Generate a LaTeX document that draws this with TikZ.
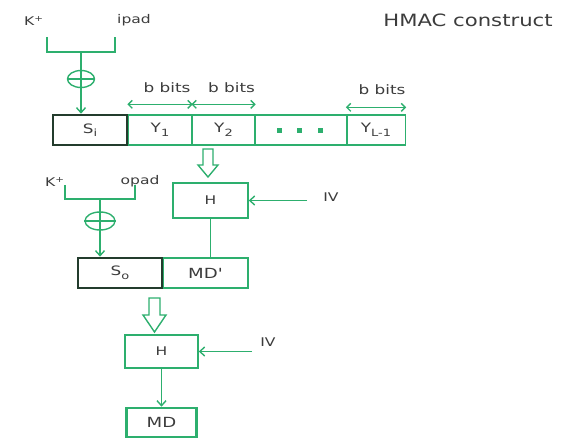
\documentclass[tikz,border=0pt]{standalone}
\usepackage{fontspec}
\setmainfont{DejaVu Sans}
\usetikzlibrary{arrows.meta,shapes.geometric}
\definecolor{hgreen}{RGB}{45,175,110}
\definecolor{htext}{RGB}{60,60,60}
\definecolor{hdark}{RGB}{35,60,45}
\newcommand\hwide[1]{\scalebox{1.3}[1]{#1}}
\newcommand\hsub[1]{\raisebox{-3.5bp}{\fontsize{10}{12}\selectfont #1}}
\begin{document}
\begin{tikzpicture}[x=1bp,y=-1bp,
  gline/.style={draw=hgreen,line width=1.4bp},
  arr/.style={gline,-{Straight Barb[length=5bp,width=9bp]}},
  darr/.style={gline,{Straight Barb[length=4bp,width=8bp]}-{Straight Barb[length=4bp,width=8bp]}},
  lbl/.style={text=htext,font=\fontsize{12}{14}\selectfont,inner sep=0},
  cell/.style={draw=hgreen,line width=1.4bp,minimum height=30bp,inner sep=0,text=htext,font=\fontsize{13}{15}\selectfont},
  thickcell/.style={cell,draw=hdark,line width=2.6bp},
  hbox/.style={draw=hgreen,line width=1.4bp,inner sep=0,text=htext,font=\fontsize{12}{14}\selectfont},
  xor/.style={ellipse,draw=hgreen,line width=1.4bp,inner sep=0},
  hollow/.style={draw=hgreen,line width=1.4bp,fill=white}]
\useasboundingbox (0,0) rectangle (568,438);

% title
\node[text=htext,font=\fontsize{17}{20}\selectfont,inner sep=0] (title) at (468,20) {\scalebox{1.25}[1]{HMAC construct}};

% ---- inner part ----
\node[lbl] (kp1) at (34,21) {\hwide{K\textsuperscript{+}}};
\node[lbl] (ipad) at (134,20) {\hwide{ipad}};
\coordinate (b1l) at (47,37);
\coordinate (b1r) at (115,37);
\coordinate (b1m) at (81,52);
\draw[gline] (b1l) |- (b1m) -| (b1r);
\node[xor,minimum width=27bp,minimum height=17bp] (x1) at (81,79) {};
\draw[gline] (x1.north) -- (x1.south) (x1.west) -- (x1.east);
\draw[gline] (b1m) -- (x1.north);

\node[cell,minimum width=64bp] (y1) at (160,130) {\hwide{Y\hsub{1}}};
\node[cell,minimum width=63bp] (y2) at (223.5,130) {\hwide{Y\hsub{2}}};
\node[cell,minimum width=92bp] (dots) at (301,130) {};
\node[cell,minimum width=59bp] (yl) at (376,130) {\hwide{Y\hsub{L-1}}};
\node[thickcell,minimum width=74bp] (si) at (90,130) {\hwide{S\hsub{i}}};
\fill[hgreen] (279,131) ++(-2.5,-2.5) rectangle ++(5,5);
\fill[hgreen] (299,131) ++(-2.5,-2.5) rectangle ++(5,5);
\fill[hgreen] (320,131) ++(-2.5,-2.5) rectangle ++(5,5);
\draw[arr] (x1.south) -- (x1.south |- si.north);

\draw[darr] ([yshift=10bp]y1.north west) -- ([yshift=10bp]y1.north east);
\draw[darr] ([yshift=10bp]y2.north west) -- ([yshift=10bp]y2.north east);
\draw[darr] ([yshift=7bp]yl.north west) -- ([yshift=7bp]yl.north east);
\node[lbl,font=\fontsize{13}{15}\selectfont] (bb1) at ([xshift=7bp,yshift=27bp]y1.north) {\hwide{b bits}};
\node[lbl,font=\fontsize{13}{15}\selectfont] (bb2) at ([xshift=8bp,yshift=27bp]y2.north) {\hwide{b bits}};
\node[lbl,font=\fontsize{13}{15}\selectfont] (bb3) at ([xshift=6bp,yshift=25bp]yl.north) {\hwide{b bits}};

% hollow arrow 1
\draw[hollow] (203,149) -- (213,149) -- (213,165) -- (218,165) -- (208,177) -- (198,165) -- (203,165) -- cycle;

\node[hbox,minimum width=75bp,minimum height=35bp] (h1) at (210.5,200.5) {\hwide{H}};
\node[lbl] (iv1) at (331,197) {\hwide{IV}};
\coordinate (iv1s) at (307,200.5);
\draw[arr] (iv1s) -- (h1.east);

% ---- outer part ----
\node[lbl] (kp2) at (55,182) {\hwide{K\textsuperscript{+}}};
\node[lbl] (opad) at (140,181) {\hwide{opad}};
\coordinate (b2l) at (65,185);
\coordinate (b2r) at (135,185);
\coordinate (b2m) at (100,199);
\draw[gline] (b2l) |- (b2m) -| (b2r);
\node[xor,minimum width=30bp,minimum height=18bp] (x2) at (100,221) {};
\draw[gline] (x2.north) -- (x2.south) (x2.west) -- (x2.east);
\draw[gline] (b2m) -- (x2.north);

\node[cell,minimum width=85bp,font=\fontsize{14}{16}\selectfont] (mdp) at (205.5,273) {\hwide{MD\textquotesingle}};
\node[thickcell,minimum width=84bp] (so) at (120,273) {\hwide{S\hsub{o}}};
\draw[arr] (x2.south) -- (x2.south |- so.north);
\draw[gline] (h1.south) -- (h1.south |- mdp.north);

% hollow arrow 2
\draw[hollow] (149,298) -- (160,298) -- (160,315) -- (166,315) -- (154.5,332) -- (143,315) -- (149,315) -- cycle;

\node[hbox,minimum width=73bp,minimum height=33bp] (h2) at (161.5,351.5) {\hwide{H}};
\node[lbl] (iv2) at (268,342) {\hwide{IV}};
\coordinate (iv2s) at (252,351.5);
\draw[arr] (iv2s) -- (h2.east);

\node[hbox,line width=2.6bp,minimum width=70bp,minimum height=29bp,font=\fontsize{14}{16}\selectfont] (md) at (161.5,422.5) {\hwide{MD}};
\draw[arr] (h2.south) -- (md.north);
\end{tikzpicture}
\end{document}
